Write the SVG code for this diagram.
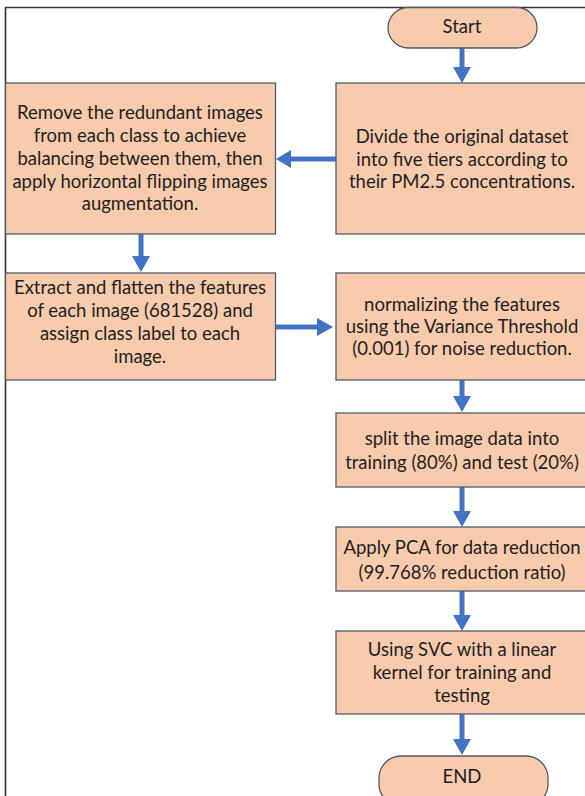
<svg xmlns="http://www.w3.org/2000/svg" width="585" height="796" viewBox="0 0 585 796">
<style>
.box{fill:#f8cbad;stroke:#4f5b6a;stroke-width:1.3}
.t{font-family:Lato,"Liberation Sans",sans-serif;font-size:18.5px;fill:#1e1e1e;text-anchor:middle}
.c{stroke:#4472c4;stroke-width:5;fill:none}
.h{fill:#4472c4}
</style>
<rect width="585" height="796" fill="#ffffff"/>
<path d="M585 7.5H5.5V796" fill="none" stroke="#333" stroke-width="1.6"/>
<g id="connectors">
<line class="c" x1="462" y1="48" x2="462" y2="68"/><polygon class="h" points="453,67 471,67 462,83"/>
<line class="c" x1="336" y1="159" x2="290" y2="159"/><polygon class="h" points="291,150 291,168 276,159"/>
<line class="c" x1="141" y1="234" x2="141" y2="257"/><polygon class="h" points="132,256 150,256 141,272"/>
<line class="c" x1="275" y1="327" x2="318" y2="327"/><polygon class="h" points="317,318 317,336 333,327"/>
<line class="c" x1="462" y1="380" x2="462" y2="397"/><polygon class="h" points="453,396 471,396 462,412"/>
<line class="c" x1="462" y1="487" x2="462" y2="512"/><polygon class="h" points="453,511 471,511 462,527"/>
<line class="c" x1="462" y1="591" x2="462" y2="616"/><polygon class="h" points="453,615 471,615 462,631"/>
<line class="c" x1="462" y1="714" x2="462" y2="740"/><polygon class="h" points="453,739 471,739 462,755"/>
</g>
<g id="start"><rect class="box" x="388" y="7.5" width="149" height="40.5" rx="20.25"/><text class="t" x="462" y="33">Start</text></g>
<g id="divide"><rect class="box" x="336" y="83" width="254" height="151"/>
<text class="t" x="462" y="143">Divide the original dataset</text><text class="t" x="462" y="165.5">into five tiers according to</text><text class="t" x="462" y="188">their PM2.5 concentrations.</text></g>
<g id="remove"><rect class="box" x="5.5" y="83" width="270" height="151"/>
<text class="t" x="140" y="119">Remove the redundant images</text><text class="t" x="140" y="142">from each class to achieve</text><text class="t" x="140" y="165">balancing between them, then</text><text class="t" x="140" y="188">apply horizontal flipping images</text><text class="t" x="140" y="210">augmentation.</text></g>
<g id="extract"><rect class="box" x="5.5" y="273" width="270" height="107"/>
<text class="t" x="140" y="294">Extract and flatten the features</text><text class="t" x="140" y="317">of each image (681528) and</text><text class="t" x="140" y="340">assign class label to each</text><text class="t" x="140" y="363">image.</text></g>
<g id="normalize"><rect class="box" x="336" y="273" width="254" height="107"/>
<text class="t" x="462" y="311">normalizing the features</text><text class="t" x="462" y="333">using the Variance Threshold</text><text class="t" x="462" y="355">(0.001) for noise reduction.</text></g>
<g id="split"><rect class="box" x="336" y="413" width="254" height="74"/>
<text class="t" x="462" y="445">split the image data into</text><text class="t" x="462" y="469">training (80%) and test (20%)</text></g>
<g id="pca"><rect class="box" x="336" y="527" width="254" height="64"/>
<text class="t" x="462" y="554">Apply PCA for data reduction</text><text class="t" x="462" y="579">(99.768% reduction ratio)</text></g>
<g id="svc"><rect class="box" x="336" y="631" width="254" height="83"/>
<text class="t" x="462" y="656">Using SVC with a linear</text><text class="t" x="462" y="679">kernel for training and</text><text class="t" x="462" y="702">testing</text></g>
<g id="end"><rect class="box" x="379" y="756" width="169" height="50" rx="22"/><text class="t" x="462" y="783">END</text></g>
</svg>
